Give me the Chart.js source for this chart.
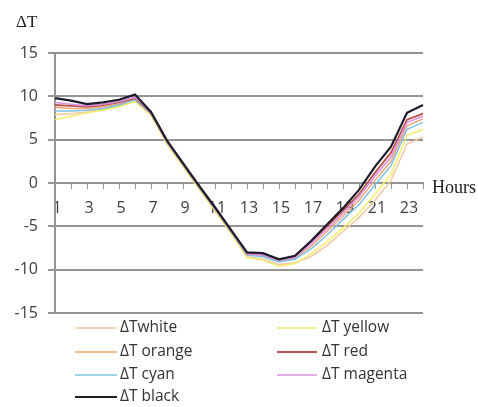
<!DOCTYPE html>
<html>
<head>
<meta charset="utf-8">
<script src="https://cdn.jsdelivr.net/npm/chart.js@4.4.1/dist/chart.umd.min.js"></script>
<style>
  html, body { margin: 0; padding: 0; background: #fff; }
  #wrap { width: 478px; height: 407px; position: relative; }
</style>
</head>
<body>
<div id="wrap"><canvas id="c" width="478" height="407"></canvas></div>
<script>
// Hours of the day
const hours = Array.from({ length: 24 }, (_, i) => String(i + 1));

// Temperature difference per colour (°C)
const dtWhite   = [7.9, 8.0, 8.2, 8.5, 8.9, 9.5, 7.9, 4.6, 2.0, -0.6, -3.1, -5.7, -8.5, -8.8, -9.4, -9.2, -8.5, -7.2, -5.6, -4.0, -2.0, 0.3, 4.5, 5.3];
const dtYellow  = [7.3, 7.7, 8.1, 8.4, 8.8, 9.4, 7.8, 4.5, 1.9, -0.7, -3.2, -5.8, -8.6, -8.9, -9.6, -9.3, -8.2, -6.8, -5.2, -3.5, -1.3, 1.0, 5.5, 6.2];
const dtOrange  = [8.7, 8.6, 8.6, 8.8, 9.1, 9.7, 8.0, 4.7, 2.1, -0.5, -3.0, -5.6, -8.3, -8.4, -9.0, -8.7, -7.3, -5.6, -3.8, -2.0, 0.3, 2.5, 6.6, 7.4];
const dtRed     = [9.0, 8.9, 8.8, 9.0, 9.3, 9.8, 8.1, 4.8, 2.2, -0.4, -2.9, -5.5, -8.1, -8.2, -8.8, -8.5, -6.8, -5.0, -3.2, -1.3, 1.2, 3.5, 7.3, 8.0];
const dtCyan    = [8.3, 8.3, 8.4, 8.6, 9.0, 9.6, 8.0, 4.7, 2.1, -0.5, -3.0, -5.6, -8.3, -8.5, -9.1, -8.8, -7.6, -6.0, -4.2, -2.5, -0.2, 2.0, 6.2, 7.0];
const dtMagenta = [9.3, 9.1, 8.9, 9.1, 9.4, 9.9, 8.1, 4.8, 2.2, -0.4, -2.9, -5.5, -8.2, -8.3, -8.9, -8.6, -7.0, -5.3, -3.5, -1.6, 0.8, 3.0, 7.0, 7.7];
const dtBlack   = [9.8, 9.5, 9.1, 9.3, 9.6, 10.2, 8.2, 4.9, 2.3, -0.3, -2.8, -5.4, -8.0, -8.1, -8.8, -8.4, -6.7, -4.8, -2.9, -0.8, 1.9, 4.2, 8.1, 9.0];

// Y-axis range and step
const yMin = -15, yMax = 15, yStep = 5;

const series = [
  { label: 'ΔTwhite',    data: dtWhite,   color: '#f3c8a2', width: 1.5, order: 6 },
  { label: 'ΔT yellow',  data: dtYellow,  color: '#f2ee6a', width: 1.5, order: 5 },
  { label: 'ΔT orange',  data: dtOrange,  color: '#eea772', width: 1.5, order: 4 },
  { label: 'ΔT red',     data: dtRed,     color: '#b9544a', width: 1.8, order: 2 },
  { label: 'ΔT cyan',    data: dtCyan,    color: '#7cc3df', width: 1.5, order: 3 },
  { label: 'ΔT magenta', data: dtMagenta, color: '#dd8fe3', width: 1.5, order: 1 },
  { label: 'ΔT black',   data: dtBlack,   color: '#1c1c2c', width: 2.2, order: 0 }
];

const gridGrey = '#949494';
const labelFont = '"Open Sans", "Liberation Sans", sans-serif';
const serifFont = '"Liberation Serif", "Times New Roman", serif';

// Two-column legend and axis captions drawn under/around the plot
const extrasPlugin = {
  id: 'extras',
  afterDraw(chart) {
    const ctx = chart.ctx;
    ctx.save();
    // axis captions
    ctx.fillStyle = '#222';
    ctx.textBaseline = 'middle';
    ctx.textAlign = 'left';
    ctx.font = '17px ' + serifFont;
    ctx.fillText('ΔT', 16, 23);
    ctx.font = '18px ' + serifFont;
    ctx.fillText('Hours', 432, 188);

    // legend
    const cols = [{ lx0: 75, lx1: 117, tx: 120 }, { lx0: 277, lx1: 317, tx: 322 }];
    const rows = [328, 352, 375, 397];
    ctx.font = '15.5px ' + labelFont;
    chart.data.datasets.forEach((ds, i) => {
      const c = cols[i % 2];
      const y = rows[Math.floor(i / 2)];
      ctx.strokeStyle = ds.borderColor;
      ctx.lineWidth = ds.borderWidth;
      ctx.beginPath();
      ctx.moveTo(c.lx0, y);
      ctx.lineTo(c.lx1, y);
      ctx.stroke();
      ctx.fillStyle = '#333';
      ctx.fillText(ds.label, c.tx, y);
    });
    ctx.restore();
  }
};

new Chart(document.getElementById('c'), {
  type: 'line',
  data: {
    labels: hours,
    datasets: series.map(s => ({
      label: s.label,
      data: s.data,
      borderColor: s.color,
      backgroundColor: s.color,
      borderWidth: s.width,
      pointRadius: 0,
      tension: 0,
      fill: false,
      order: s.order
    }))
  },
  options: {
    responsive: false,
    animation: false,
    devicePixelRatio: 1,
    layout: { padding: { left: 0, top: 53, right: 55, bottom: 94 } },
    plugins: { legend: { display: false }, tooltip: { enabled: false } },
    scales: {
      x: {
        type: 'category',
        position: { y: 0 },
        offset: false,
        afterFit(scale) { scale.height = 0; },
        grid: { drawOnChartArea: false, drawTicks: true, tickLength: 5, color: gridGrey, lineWidth: 1 },
        border: { color: gridGrey, width: 2 },
        ticks: {
          autoSkip: false,
          maxRotation: 0,
          padding: 11,
          labelOffset: 2,
          color: '#404040',
          font: { family: labelFont, size: 16 },
          callback(value, index) { return index % 2 === 0 ? this.getLabelForValue(value) : ''; }
        }
      },
      y: {
        min: yMin,
        max: yMax,
        afterFit(scale) { scale.width = 55; },
        grid: { color: gridGrey, lineWidth: 2, tickLength: 7 },
        border: { color: gridGrey, width: 2 },
        ticks: {
          stepSize: yStep,
          padding: 10,
          color: '#404040',
          font: { family: labelFont, size: 16 }
        }
      }
    }
  },
  plugins: [extrasPlugin]
});
</script>
</body>
</html>
